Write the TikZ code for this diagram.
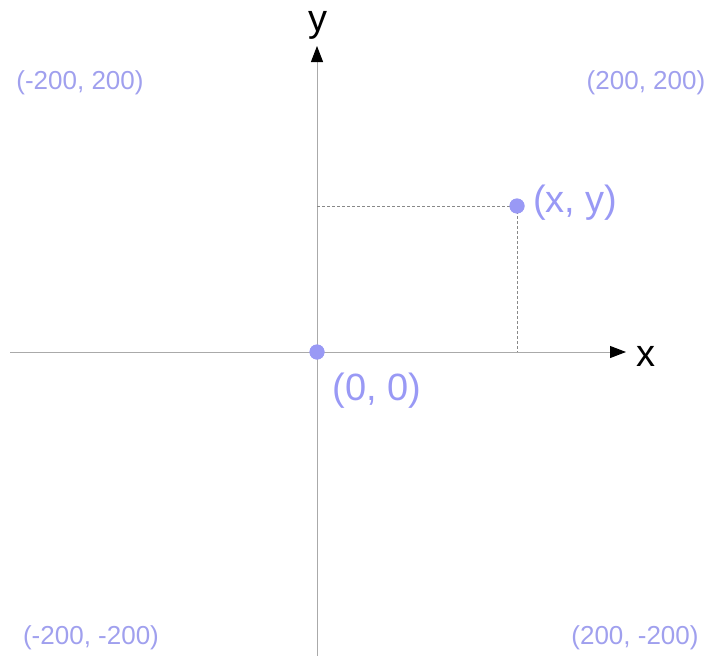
\documentclass[tikz,border=0pt]{standalone}
\usepackage{fontspec}
\setmainfont{Liberation Sans}
\usetikzlibrary{arrows.meta}
\definecolor{lav}{RGB}{153,153,245}
\definecolor{lavlight}{RGB}{160,160,238}
\definecolor{axisgray}{RGB}{170,170,170}
\definecolor{dashgray}{RGB}{136,136,136}
\tikzset{
  axisline/.style={draw=axisgray, line width=1pt},
  axisarrow/.style={axisline, -{Triangle[length=16pt,width=12pt,fill=black,color=black]}},
  guide/.style={draw=dashgray, line width=0.8pt, dash pattern=on 3pt off 2pt},
  dot/.style={circle, fill=lav, inner sep=0pt, minimum size=15pt},
  corner/.style={text=lavlight, font=\fontsize{26}{30}\selectfont, inner sep=0pt},
  biglabel/.style={text=lav, font=\fontsize{38}{42}\selectfont, inner sep=0pt},
  axislabel/.style={text=black, font=\fontsize{38}{42}\selectfont, inner sep=0pt, anchor=base}
}
\begin{document}
\begin{tikzpicture}[x=1pt,y=-1pt]
\useasboundingbox (0,0) rectangle (707,656);
\coordinate (xl) at (10,352);
\coordinate (xr) at (626,352);
\coordinate (yt) at (317,46);
\coordinate (yb) at (317,656);
\draw[axisline] (yb) -- (317,60);
\draw[axisarrow] (317,100) -- (yt);
\draw[axisline] (xl) -- (612,352);
\draw[axisarrow] (580,352) -- (xr);
\node[dot] (o) at (317,352) {};
\node[dot] (p) at (517,206) {};
\coordinate (py) at (317,206);
\coordinate (px) at (517,352);
\draw[guide] (py) -- (p.center);
\draw[guide] (p.center) -- (px);
\node[dot] at (p) {};
\node[dot] at (o) {};
\node[axislabel] (ly) at (318,31) {y};
\node[axislabel] (lx) at (646,366) {x};
\node[biglabel, anchor=west] (lp) at (533,203) {(x, y)};
\node[biglabel] (lo) at (377,391) {(0, 0)};
\node[corner] (c1) at (80,83) {(-200, 200)};
\node[corner] (c2) at (646,83) {(200, 200)};
\node[corner] (c3) at (91,638) {(-200, -200)};
\node[corner] (c4) at (635,638) {(200, -200)};
\end{tikzpicture}
\end{document}
